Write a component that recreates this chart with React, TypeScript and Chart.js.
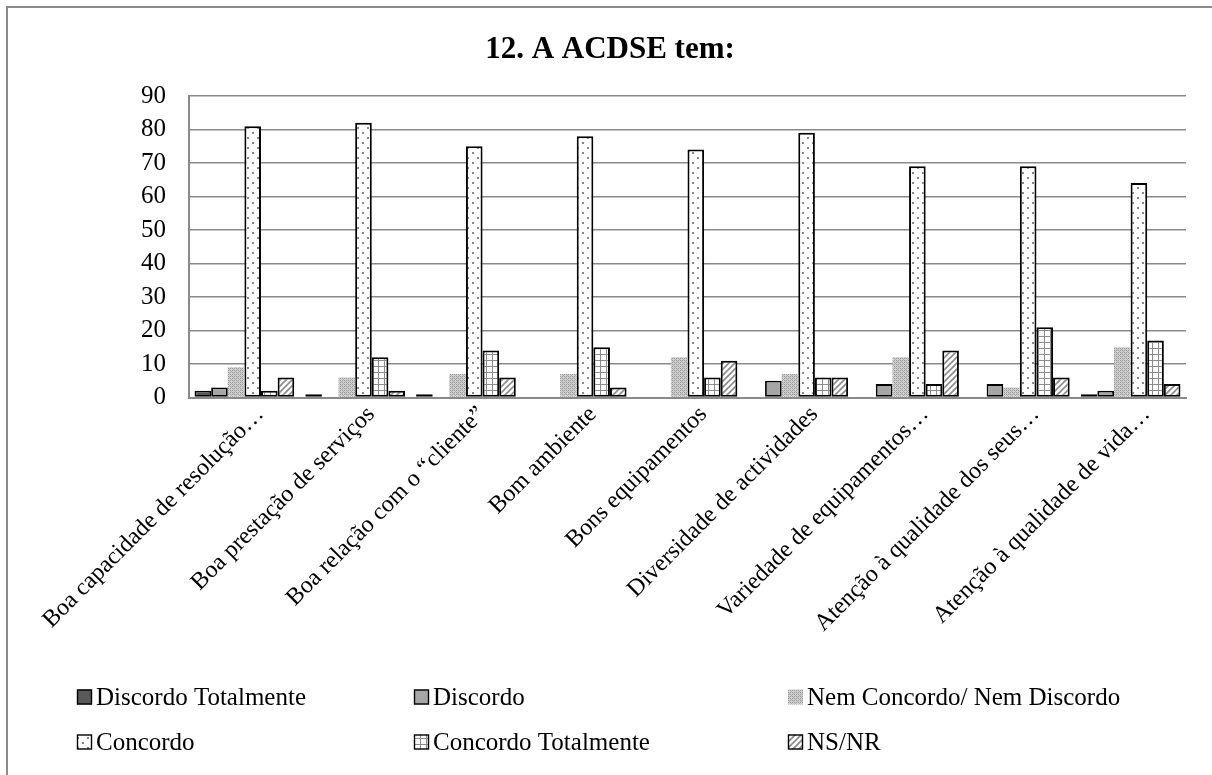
import React, { useEffect, useRef } from "react";
import { Chart, registerables } from "chart.js";

Chart.register(...registerables);

const titleText = "12. A ACDSE tem:";

const categories = [
  "Boa capacidade de resolução…",
  "Boa prestação de serviços",
  "Boa relação com o “cliente”",
  "Bom ambiente",
  "Bons equipamentos",
  "Diversidade de actividades",
  "Variedade de equipamentos…",
  "Atenção à qualidade dos seus…",
  "Atenção à qualidade de vida…",
];

const seriesNames = [
  "Discordo Totalmente",
  "Discordo",
  "Nem Concordo/ Nem Discordo",
  "Concordo",
  "Concordo Totalmente",
  "NS/NR",
];

const discordoTotalmente = [2, 1, 1, 0, 0, 0, 0, 0, 1];
const discordo = [3, 0, 0, 0, 0, 5, 4, 4, 2];
const nemConcordoNemDiscordo = [9, 6, 7, 7, 12, 7, 12, 3, 15];
const concordo = [81, 82, 75, 78, 74, 79, 69, 69, 64];
const concordoTotalmente = [2, 12, 14, 15, 6, 6, 4, 21, 17];
const nsnr = [6, 2, 6, 3, 11, 6, 14, 6, 4];

const yTickLabels = ["0", "10", "20", "30", "40", "50", "60", "70", "80", "90"];

const FONT = '"Liberation Serif", "Times New Roman", serif';
const GRID = "#8a8a8a";

function makePattern(size: number, draw: (c: CanvasRenderingContext2D) => void): CanvasPattern | string {
  const cv = document.createElement("canvas");
  cv.width = size;
  cv.height = size;
  const c = cv.getContext("2d");
  if (!c) return "#ccc";
  draw(c);
  const ctx = document.createElement("canvas").getContext("2d");
  const p = ctx ? ctx.createPattern(cv, "repeat") : null;
  return p || "#ccc";
}

export default function App() {
  const ref = useRef<HTMLCanvasElement | null>(null);

  useEffect(() => {
    if (!ref.current) return;

    const checker = makePattern(4, (c) => {
      c.fillStyle = "#d0d0d0";
      c.fillRect(0, 0, 4, 4);
      c.fillStyle = "#999999";
      c.fillRect(0, 0, 1, 1);
      c.fillRect(2, 2, 1, 1);
      c.fillRect(2, 0, 1, 1);
      c.fillRect(0, 2, 1, 1);
      c.fillStyle = "#b0b0b0";
      c.fillRect(1, 1, 1, 1);
      c.fillRect(3, 3, 1, 1);
    });
    const dots = makePattern(10, (c) => {
      c.fillStyle = "#ffffff";
      c.fillRect(0, 0, 10, 10);
      c.fillStyle = "#888888";
      c.fillRect(2, 2, 2, 2);
      c.fillRect(7, 7, 2, 2);
    });
    const gridPat = makePattern(6, (c) => {
      c.fillStyle = "#ffffff";
      c.fillRect(0, 0, 6, 6);
      c.fillStyle = "#8c8c8c";
      c.fillRect(0, 0, 6, 1);
      c.fillRect(0, 0, 1, 6);
    });
    const diag = makePattern(6, (c) => {
      c.fillStyle = "#ffffff";
      c.fillRect(0, 0, 6, 6);
      c.strokeStyle = "#8c8c8c";
      c.lineWidth = 1.6;
      c.beginPath();
      c.moveTo(-1, 7);
      c.lineTo(7, -1);
      c.moveTo(-4, 4);
      c.lineTo(4, -4);
      c.moveTo(2, 10);
      c.lineTo(10, 2);
      c.stroke();
    });

    const seriesData = [
      discordoTotalmente,
      discordo,
      nemConcordoNemDiscordo,
      concordo,
      concordoTotalmente,
      nsnr,
    ];
    const fills: (string | CanvasPattern)[] = ["#595959", "#a6a6a6", checker, dots, gridPat, diag];
    const borders = ["#000", "#000", "rgba(0,0,0,0)", "#000", "#000", "#000"];
    const bw = [1.8, 1.8, 0, 2, 2, 2];

    const datasets = seriesNames.map((name, i) => ({
      label: name,
      data: seriesData[i],
      backgroundColor: fills[i],
      borderColor: borders[i],
      borderWidth: (ctx: any) => (ctx.raw === 0 ? 0 : bw[i]),
      borderSkipped: false as any,
      categoryPercentage: 0.9,
      barPercentage: 1.0,
    }));

    const titleLegendPlugin = {
      id: "titleLegend",
      afterDraw(chart: any) {
        const ctx: CanvasRenderingContext2D = chart.ctx;
        ctx.save();
        ctx.fillStyle = "#000";
        ctx.font = `bold 31px ${FONT}`;
        ctx.textAlign = "center";
        ctx.textBaseline = "middle";
        ctx.fillText(titleText, 610, 50);

        const colX = [77, 414, 788];
        const rowY = [697, 742];
        ctx.font = `25px ${FONT}`;
        ctx.textAlign = "left";
        chart.data.datasets.forEach((ds: any, i: number) => {
          const x = colX[i % 3];
          const y = rowY[Math.floor(i / 3)];
          const s = 15;
          ctx.fillStyle = ds.backgroundColor;
          ctx.fillRect(x, y - s / 2, s, s);
          if (bw[i] > 0) {
            ctx.strokeStyle = "#000";
            ctx.lineWidth = 1.4;
            ctx.strokeRect(x + 0.5, y - s / 2 + 0.5, s - 1, s - 1);
          }
          ctx.fillStyle = "#000";
          ctx.fillText(ds.label, x + s + 4, y + 1);
        });
        ctx.restore();
      },
    };

    const chart = new Chart(ref.current, {
      type: "bar",
      data: { labels: categories, datasets },
      options: {
        responsive: false,
        animation: false,
        layout: { padding: { left: 0, right: 26, top: 96, bottom: 107.5 } },
        plugins: {
          legend: { display: false },
          title: { display: false },
          tooltip: { enabled: false },
        },
        scales: {
          x: {
            grid: { display: false, drawTicks: false },
            border: { display: true, color: GRID, width: 2 },
            ticks: {
              font: { family: FONT, size: 24 },
              color: "#000",
              maxRotation: 45,
              minRotation: 45,
              padding: 3,
              labelOffset: 16,
              autoSkip: false,
            },
            afterFit: (s: any) => {
              s.height = 270;
            },
          },
          y: {
            min: 0,
            max: 90,
            ticks: {
              stepSize: 10,
              font: { family: FONT, size: 25 },
              color: "#000",
              padding: 23,
              callback: (_v: any, i: number) => yTickLabels[i],
            },
            grid: { color: GRID, lineWidth: 1.5, drawTicks: false },
            border: { display: true, color: GRID, width: 2 },
            afterFit: (s: any) => {
              s.width = 189;
            },
          },
        },
      },
      plugins: [titleLegendPlugin],
    });

    return () => chart.destroy();
  }, []);

  return (
    <div style={{ position: "fixed", left: 0, top: 0, width: 1212, height: 775, background: "#fff", overflow: "hidden" }}>
      <canvas ref={ref} width={1212} height={775} style={{ position: "absolute", left: 0, top: 0 }} />
      <div
        style={{
          position: "absolute",
          left: 6,
          top: 6,
          width: 1300,
          height: 900,
          borderLeft: "2px solid #8c8c8c",
          borderTop: "2px solid #8c8c8c",
          pointerEvents: "none",
        }}
      />
    </div>
  );
}
